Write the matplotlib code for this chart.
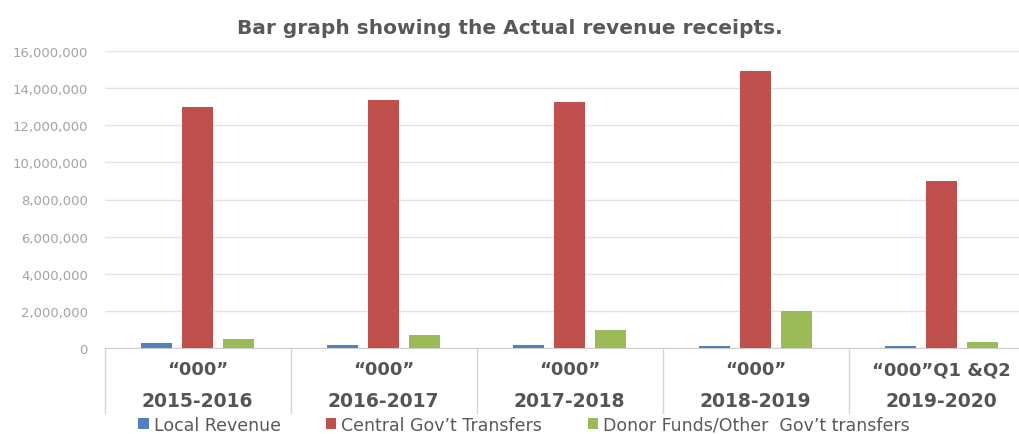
import numpy as np
import matplotlib
matplotlib.use('Agg')
import matplotlib.pyplot as plt
from matplotlib.ticker import FuncFormatter

# the reference looks stretched sideways, so a wide face fits it better
plt.rcParams['font.family'] = ['DejaVu Sans']

# data
years = ['2015-2016', '2016-2017', '2017-2018', '2018-2019', '2019-2020']
units = ['\u201c000\u201d', '\u201c000\u201d', '\u201c000\u201d', '\u201c000\u201d', '\u201c000\u201dQ1 &Q2']
local_revenue = [280000, 180000, 190000, 100000, 100000]
central_transfers = [12970000, 13350000, 13260000, 14910000, 8980000]
donor_funds = [490000, 730000, 1000000, 2030000, 320000]

series_names = ['Local Revenue', 'Central Gov\u2019t Transfers', 'Donor Funds/Other  Gov\u2019t transfers']
series_colors = ['#4F81BD', '#C0504D', '#9BBB59']

W, H = 1020, 435
fig = plt.figure(figsize=(W / 100, H / 100), dpi=100)
fig.set_facecolor('white')

# axes placed in pixel terms; right side runs past the image like the cropped original
left, bottom, top = 104.6, 349.3, 51.7
width = 5 * 186
ax = fig.add_axes([left / W, 1 - bottom / H, width / W, (bottom - top) / H])

x = np.arange(len(years))
bw = 0.17
off = 0.22
for vals, name, col, dx in zip([local_revenue, central_transfers, donor_funds],
                               series_names, series_colors, [-off, 0, off]):
    ax.bar(x + dx, vals, width=bw, color=col, label=name, zorder=3)

ax.set_xlim(-0.5, len(years) - 0.5)
ax.set_ylim(0, 16000000)
ax.set_yticks(np.arange(0, 16000001, 2000000))
ax.yaxis.set_major_formatter(FuncFormatter(lambda v, p: f'{int(v):,}'))
ax.tick_params(axis='y', length=0, pad=12, labelsize=9.5, labelcolor='#a3a3a3')
ax.set_xticks([])
ax.grid(axis='y', color='#e3e3e3', linewidth=1.0, zorder=0)
for s in ['top', 'right', 'left']:
    ax.spines[s].set_visible(False)
ax.spines['bottom'].set_color('#cfcfcf')

# category labels and separators below the axis
ph = bottom - top
for i in range(len(years)):
    ax.text(i, -21 / ph, units[i], transform=ax.get_xaxis_transform(), ha='center', va='center',
            fontsize=13, fontweight='bold', color='#555555')
    ax.text(i, -52 / ph, years[i], transform=ax.get_xaxis_transform(), ha='center', va='center',
            fontsize=13.5, fontweight='bold', color='#555555')
for i in range(len(years) + 1):
    ax.plot([i - 0.5, i - 0.5], [0, -65 / ph], transform=ax.get_xaxis_transform(),
            color='#d5d5d5', linewidth=1, clip_on=False)

fig.text(0.5, 1 - 28 / H, 'Bar graph showing the Actual revenue receipts.', ha='center', va='center',
         fontsize=14.5, fontweight='bold', color='#595959')

fig.legend(loc='center', bbox_to_anchor=(524 / W, 1 - 426 / H), ncol=3, frameon=False,
           fontsize=12.5, labelcolor='#595959', handlelength=0.6, handleheight=0.6,
           handletextpad=0.3, columnspacing=2.6, borderpad=0.05)

fig.savefig('out.png', dpi=100)
